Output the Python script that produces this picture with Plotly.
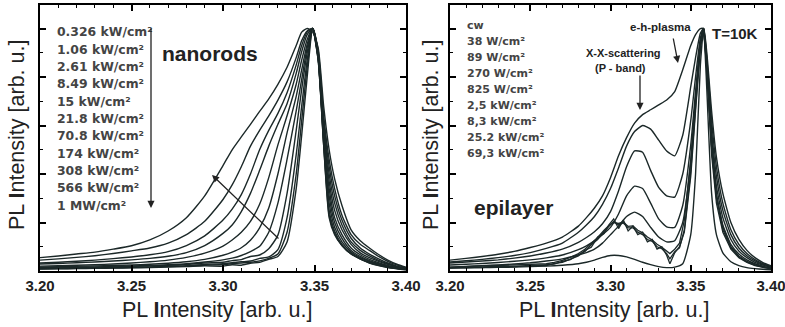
import plotly.graph_objects as go

# ---------------- data: nanorods (left panel) ----------------
XL = [3.200, 3.210, 3.220, 3.230, 3.240, 3.250, 3.260, 3.270, 3.280, 3.290,
      3.300, 3.305, 3.310, 3.315, 3.320, 3.325, 3.330, 3.335, 3.340, 3.343,
      3.346, 3.349, 3.352, 3.355, 3.358, 3.361, 3.365, 3.370, 3.375, 3.380,
      3.385, 3.390, 3.395, 3.400]

nano_labels = ["0.326 kW/cm²", "1.06 kW/cm²", "2.61 kW/cm²", "8.49 kW/cm²",
               "15 kW/cm²", "21.8 kW/cm²", "70.8 kW/cm²", "174 kW/cm²",
               "308 kW/cm²", "566 kW/cm²", "1 MW/cm²"]

n_0326 = [0.008,0.009,0.010,0.011,0.012,0.013,0.014,0.016,0.018,0.021,
          0.020,0.026,0.024,0.032,0.036,0.048,0.060,0.120,0.340,0.560,
          0.800,1.000,0.870,0.520,0.220,0.150,0.105,0.070,0.050,0.033,
          0.022,0.014,0.009,0.005]
n_106 = [0.009,0.010,0.011,0.012,0.013,0.014,0.016,0.018,0.020,0.024,
         0.027,0.030,0.033,0.036,0.042,0.052,0.070,0.160,0.400,0.620,
         0.840,1.000,0.870,0.520,0.230,0.155,0.105,0.070,0.050,0.034,
         0.023,0.015,0.010,0.006]
n_261 = [0.010,0.011,0.012,0.013,0.014,0.016,0.017,0.020,0.022,0.027,
         0.030,0.034,0.038,0.041,0.052,0.058,0.088,0.220,0.480,0.680,
         0.870,1.000,0.880,0.530,0.250,0.165,0.110,0.072,0.050,0.036,
         0.025,0.016,0.011,0.006]
n_849 = [0.012,0.013,0.014,0.015,0.017,0.019,0.021,0.023,0.027,0.033,
         0.036,0.043,0.047,0.060,0.066,0.092,0.148,0.320,0.580,0.750,
         0.900,1.000,0.880,0.540,0.280,0.180,0.120,0.078,0.055,0.040,
         0.028,0.018,0.012,0.007]
n_15 = [0.014,0.015,0.016,0.017,0.019,0.021,0.023,0.026,0.030,0.037,
        0.046,0.053,0.064,0.080,0.102,0.160,0.280,0.460,0.660,0.790,
        0.920,1.000,0.880,0.550,0.310,0.200,0.135,0.085,0.060,0.043,
        0.030,0.020,0.013,0.008]
n_218 = [0.017,0.018,0.019,0.021,0.023,0.025,0.028,0.032,0.038,0.048,
         0.065,0.078,0.096,0.127,0.178,0.260,0.400,0.570,0.720,0.830,
         0.935,1.000,0.890,0.560,0.340,0.220,0.150,0.095,0.067,0.048,
         0.034,0.023,0.015,0.009]
n_708 = [0.020,0.022,0.024,0.026,0.029,0.033,0.038,0.045,0.056,0.074,
         0.103,0.128,0.160,0.205,0.275,0.385,0.520,0.640,0.770,0.870,
         0.955,1.000,0.890,0.580,0.370,0.250,0.170,0.110,0.075,0.055,
         0.040,0.027,0.017,0.010]
n_174 = [0.029,0.031,0.034,0.037,0.041,0.046,0.052,0.061,0.076,0.105,
         0.155,0.190,0.245,0.320,0.415,0.515,0.605,0.690,0.815,0.905,
         0.975,1.000,0.900,0.600,0.400,0.280,0.190,0.120,0.085,0.062,
         0.044,0.030,0.018,0.011]
n_308 = [0.033,0.036,0.040,0.045,0.051,0.058,0.067,0.080,0.105,0.145,
         0.210,0.255,0.315,0.400,0.500,0.580,0.650,0.735,0.850,0.930,
         0.985,1.000,0.900,0.620,0.430,0.310,0.210,0.135,0.095,0.070,
         0.050,0.033,0.020,0.012]
n_566 = [0.045,0.050,0.056,0.063,0.072,0.083,0.095,0.115,0.150,0.205,
         0.295,0.355,0.430,0.515,0.580,0.640,0.705,0.780,0.880,0.950,
         0.990,1.000,0.910,0.640,0.460,0.340,0.230,0.150,0.110,0.085,
         0.060,0.040,0.025,0.014]
n_1000 = [0.055,0.062,0.070,0.078,0.090,0.104,0.128,0.165,0.220,0.310,
          0.435,0.500,0.553,0.605,0.658,0.710,0.770,0.840,0.930,0.985,
          1.000,0.985,0.920,0.680,0.500,0.380,0.270,0.170,0.125,0.095,
          0.068,0.045,0.028,0.015]
nano_series = [n_0326, n_106, n_261, n_849, n_15, n_218, n_708, n_174, n_308, n_566, n_1000]

# ---------------- data: epilayer (right panel) ----------------
XR = [3.200, 3.210, 3.220, 3.230, 3.240, 3.250, 3.260, 3.270, 3.280, 3.285,
      3.290, 3.295, 3.300, 3.305, 3.310, 3.315, 3.320, 3.325, 3.330, 3.335,
      3.340, 3.345, 3.350, 3.353, 3.356, 3.358, 3.360, 3.363, 3.366, 3.370,
      3.375, 3.380, 3.385, 3.390, 3.395, 3.400]

epi_labels = ["cw", "38 W/cm²", "89 W/cm²", "270 W/cm²", "825 W/cm²",
              "2,5 kW/cm²", "8,3 kW/cm²", "25.2 kW/cm²", "69,3 kW/cm²"]

e_cw = [0.012,0.013,0.014,0.015,0.016,0.018,0.020,0.024,0.030,0.036,
        0.045,0.056,0.064,0.064,0.058,0.048,0.036,0.026,0.018,0.014,
        0.016,0.030,0.150,0.400,0.850,1.000,0.750,0.320,0.150,0.075,
        0.038,0.022,0.014,0.010,0.007,0.005]
e_825 = [0.016,0.019,0.022,0.025,0.029,0.034,0.041,0.050,0.066,0.076,
         0.090,0.115,0.150,0.185,0.225,0.243,0.225,0.180,0.140,0.120,
         0.125,0.200,0.450,0.700,0.930,1.000,0.850,0.520,0.320,0.190,
         0.110,0.070,0.046,0.030,0.020,0.012]
e_2500 = [0.025,0.028,0.031,0.035,0.040,0.046,0.054,0.066,0.088,0.104,
          0.124,0.150,0.180,0.235,0.310,0.350,0.340,0.280,0.215,0.182,
          0.180,0.270,0.520,0.740,0.940,1.000,0.860,0.550,0.350,0.220,
          0.130,0.082,0.055,0.036,0.024,0.015]
e_8300 = [0.033,0.037,0.041,0.046,0.053,0.062,0.074,0.090,0.118,0.138,
          0.162,0.195,0.245,0.330,0.430,0.495,0.490,0.415,0.345,0.310,
          0.305,0.400,0.620,0.800,0.960,1.000,0.870,0.580,0.390,0.250,
          0.150,0.095,0.063,0.042,0.027,0.017]
e_25200 = [0.037,0.042,0.048,0.055,0.064,0.076,0.093,0.115,0.160,0.190,
           0.225,0.275,0.340,0.425,0.515,0.575,0.600,0.585,0.540,0.495,
           0.475,0.560,0.760,0.880,0.980,1.000,0.880,0.620,0.430,0.280,
           0.170,0.110,0.072,0.047,0.030,0.019]
e_69300 = [0.045,0.052,0.060,0.069,0.081,0.097,0.115,0.140,0.185,0.220,
           0.260,0.310,0.385,0.475,0.550,0.610,0.645,0.665,0.685,0.705,
           0.740,0.830,0.930,0.975,1.000,1.000,0.900,0.660,0.470,0.320,
           0.200,0.130,0.085,0.055,0.035,0.022]

# noisy low-power spectra on a denser grid
XN = [3.200, 3.210, 3.220, 3.230, 3.240, 3.250, 3.260, 3.265, 3.270, 3.275,
      3.280, 3.284, 3.288, 3.292, 3.296, 3.299, 3.302, 3.305, 3.308, 3.311,
      3.314, 3.317, 3.320, 3.323, 3.326, 3.329, 3.332, 3.335, 3.337, 3.340,
      3.343, 3.346, 3.350, 3.353, 3.356, 3.358, 3.360, 3.363, 3.366, 3.370,
      3.375, 3.380, 3.385, 3.390, 3.395, 3.400]
e_38 = [0.012,0.016,0.014,0.019,0.017,0.024,0.022,0.031,0.036,0.050,
        0.062,0.085,0.098,0.140,0.155,0.190,0.215,0.175,0.210,0.165,
        0.185,0.150,0.160,0.120,0.130,0.090,0.100,0.065,0.030,0.075,
        0.100,0.160,0.390,0.660,0.920,1.000,0.830,0.480,0.280,0.160,
        0.090,0.055,0.035,0.022,0.014,0.009]
e_89 = [0.014,0.013,0.017,0.017,0.020,0.021,0.026,0.028,0.040,0.047,
        0.068,0.080,0.108,0.130,0.163,0.182,0.205,0.190,0.198,0.178,
        0.178,0.160,0.150,0.130,0.122,0.100,0.092,0.072,0.050,0.080,
        0.095,0.170,0.410,0.675,0.930,1.000,0.840,0.500,0.300,0.170,
        0.095,0.058,0.037,0.024,0.015,0.010]
e_270 = [0.016,0.018,0.019,0.021,0.023,0.027,0.030,0.036,0.044,0.056,
         0.072,0.090,0.112,0.138,0.168,0.188,0.200,0.196,0.202,0.184,
         0.186,0.168,0.158,0.140,0.128,0.110,0.098,0.082,0.072,0.090,
         0.115,0.210,0.460,0.715,0.945,1.000,0.850,0.510,0.310,0.180,
         0.100,0.062,0.040,0.026,0.017,0.011]

x_ticks = [3.20, 3.25, 3.30, 3.35, 3.40]
x_ticktext = ["3.20", "3.25", "3.30", "3.35", "3.40"]
axis_title = "PL <b>I</b>ntensity [arb. u.]"

# ---------------- figure ----------------
W, H = 785, 327
ML, MR, MT, MB = 40, 14, 5, 56
PW, PH = W - ML - MR, H - MT - MB

def px(xp):
    return (xp - ML) / PW

def py(yp):
    return (H - MB - yp) / PH

LINE = "#1b2828"
FONT = "Liberation Sans, Arial, sans-serif"
FONT_W = "DejaVu Sans, Verdana, sans-serif"

fig = go.Figure()
for ys in nano_series:
    fig.add_trace(go.Scatter(x=XL, y=ys, mode="lines", xaxis="x", yaxis="y",
                             line=dict(color=LINE, width=1.4, shape="spline", smoothing=0.6),
                             showlegend=False, hoverinfo="skip"))
for ys in [e_cw, e_825, e_2500, e_8300, e_25200, e_69300]:
    fig.add_trace(go.Scatter(x=XR, y=ys, mode="lines", xaxis="x2", yaxis="y2",
                             line=dict(color=LINE, width=1.4, shape="spline", smoothing=0.5),
                             showlegend=False, hoverinfo="skip"))
for ys in [e_38, e_89, e_270]:
    fig.add_trace(go.Scatter(x=XN, y=ys, mode="lines", xaxis="x2", yaxis="y2",
                             line=dict(color=LINE, width=1.3),
                             showlegend=False, hoverinfo="skip"))

xax = dict(range=[3.20, 3.40], tickvals=x_ticks,
           ticktext=["<b>%s</b>" % t for t in x_ticktext],
           ticks="inside", ticklen=6, tickwidth=1.5, tickcolor="black",
           minor=dict(dtick=0.01, ticks="inside", ticklen=3, tickwidth=1.2, tickcolor="black"),
           showline=True, linewidth=2, linecolor="black", mirror="allticks",
           showgrid=False, zeroline=False, ticklabeloverflow="allow",
           tickfont=dict(family=FONT, size=15, color="#222"), automargin=False)
yax = dict(range=[0, 1.097], dtick=0.2, tick0=0, showticklabels=False,
           ticks="inside", ticklen=6, tickwidth=1.5, tickcolor="black",
           minor=dict(dtick=0.1, ticks="inside", ticklen=3, tickwidth=1.2, tickcolor="black"),
           showline=True, linewidth=2, linecolor="black", mirror="allticks",
           showgrid=False, zeroline=False, automargin=False)

fig.update_layout(
    width=W, height=H,
    margin=dict(l=ML, r=MR, t=MT, b=MB),
    paper_bgcolor="white", plot_bgcolor="white",
    font=dict(family=FONT, color="#222"),
    xaxis=dict(xax, domain=[0, px(406)], anchor="y"),
    yaxis=dict(yax, domain=[0, 1], anchor="x"),
    xaxis2=dict(xax, domain=[px(450), 1], anchor="y2"),
    yaxis2=dict(yax, domain=[0, 1], anchor="x2"),
)

ann = []
def text(xp, yp, s, size, bold=False, xanchor="center", color="#222", angle=0, family=FONT):
    ann.append(dict(x=px(xp), y=py(yp), xref="paper", yref="paper",
                    text=("<b>%s</b>" % s) if bold else s, showarrow=False,
                    xanchor=xanchor, yanchor="middle", textangle=angle,
                    font=dict(family=family, size=size, color=color)))

def arrow(x0, y0, x1, y1):
    ann.append(dict(x=px(x1), y=py(y1), xref="paper", yref="paper",
                    ax=x0 - x1, ay=y0 - y1, axref="pixel", ayref="pixel",
                    text="", showarrow=True, arrowhead=2, arrowsize=1.1,
                    arrowwidth=1.3, arrowcolor="#222"))

# axis titles
text(217, 310, axis_title, 21.5)
text(614, 310, axis_title, 21.5)
text(17, 135, axis_title, 21.5, angle=-90)
text(431, 135, axis_title, 21.5, angle=-90)

# left panel texts
for i, lab in enumerate(nano_labels):
    text(55, 32 + 17.3 * i, lab, 12.4, bold=True, xanchor="left", color="#444", family=FONT_W)
text(210, 53, "nanorods", 21, bold=True)
arrow(151, 27, 151, 208)
arrow(280, 240, 212, 175)

# right panel texts
for i, lab in enumerate(epi_labels):
    text(465, 25 + 16 * i, lab, 11, bold=True, xanchor="left", color="#444", family=FONT_W)
text(513, 207, "epilayer", 21, bold=True)
text(735, 33, "T=10K", 15, bold=True)
text(660, 27, "e-h-plasma", 11.5, bold=True)
text(623, 53, "X-X-scattering", 11, bold=True)
text(620, 68, "(P - band)", 11, bold=True)
arrow(673, 37, 678, 63)
arrow(640, 74, 640, 110)

fig.update_layout(annotations=ann)
fig.write_html("out.html")
